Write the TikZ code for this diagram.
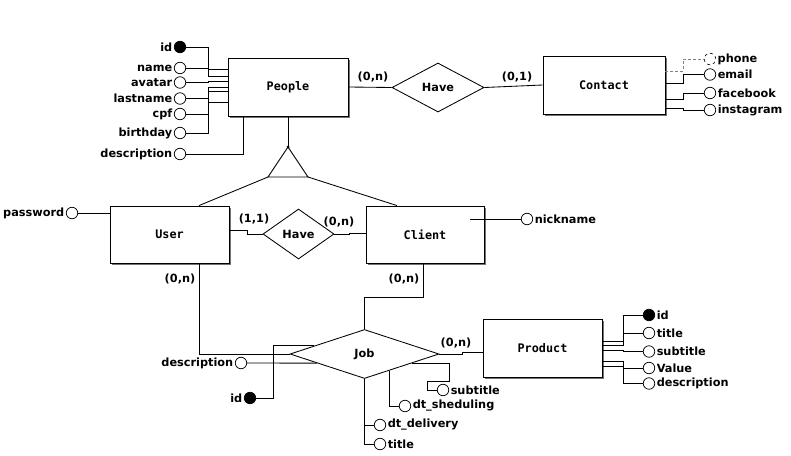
\documentclass[tikz,border=0pt]{standalone}
\usepackage{fontspec}
\setmainfont{DejaVu Sans}
\newfontfamily\entfont{DejaVu Sans Mono}
\usetikzlibrary{shapes.geometric,calc,shadows}
\begin{document}
\begin{tikzpicture}[x=1pt,y=-1pt,line width=0.85pt,
  font=\fontsize{11.3}{13}\selectfont\bfseries,
  ent/.style={draw,fill=white,inner sep=0pt,font=\entfont\fontsize{11.8}{13}\selectfont\bfseries,
    drop shadow={shadow xshift=1.5pt,shadow yshift=-1.5pt,fill=black!55,opacity=1}},
  rel/.style={draw,diamond,fill=white,inner sep=0pt},
  attr/.style={circle,draw,fill=white,minimum size=11.5pt,inner sep=0pt,line width=0.75pt},
  keyattr/.style={attr,fill=black},
  lab/.style={inner sep=1.2pt},
  card/.style={inner sep=0pt}
]
\useasboundingbox (0,0) rectangle (791,455);

% entities
\node[ent,minimum width=120pt,minimum height=58pt] (people) at (288,87) {People};
\node[ent,minimum width=122pt,minimum height=58pt] (contact) at (604,85) {Contact};
\node[ent,minimum width=119pt,minimum height=57pt] (user) at (169.5,234.5) {User};
\node[ent,minimum width=118pt,minimum height=57pt] (client) at (425,234.5) {Client};
\node[ent,minimum width=119pt,minimum height=58pt] (product) at (542.5,348) {Product};

% relationships
\node[rel,minimum width=92pt,minimum height=49pt] (have1) at (438,87.5) {Have};
\node[rel,minimum width=71pt,minimum height=50pt] (have2) at (298.5,234) {Have};
\node[rel,minimum width=149pt,minimum height=49pt] (job) at (364.5,354) {Job};

% ISA triangle
\coordinate (isatop) at (288,147);
\coordinate (isal) at (268,177);
\coordinate (isar) at (308,177);
\draw (isatop) -- (isal) -- (isar) -- cycle;
\fill (isatop) circle (1.5pt);
\draw (people.south) -- (isatop);
\draw (isal) -- ([xshift=29.5pt]user.north);
\draw (isar) -- ([xshift=-28pt]client.north);

% People attributes
\node[keyattr,label={[lab]left:id}] (pid) at (180,47) {};
\node[attr,label={[lab]left:name}] (pname) at (180,68) {};
\node[attr,label={[lab]left:avatar}] (pavatar) at (180,82.5) {};
\node[attr,label={[lab]left:lastname}] (plast) at (180,98.5) {};
\node[attr,label={[lab]left:cpf}] (pcpf) at (180,114) {};
\node[attr,label={[lab]left:birthday}] (pbirth) at (180,133) {};
\node[attr,label={[lab]left:description}] (pdesc) at (180,154) {};
\draw (pid.east) -- ++(22,0) |- ([yshift=18pt]people.west);
\draw (pname.east) -- ++(22,0) |- ([yshift=11pt]people.west);
\draw (pavatar.east) -- ++(22,0) |- ([yshift=6pt]people.west);
\draw (plast.east) -- ++(22,0) |- ([yshift=0pt]people.west);
\draw (pcpf.east) -- ++(22,0) |- ([yshift=-4pt]people.west);
\draw (pbirth.east) -- ++(22,0) |- ([yshift=-15pt]people.west);
\draw (pdesc.east) -| ([xshift=-45pt]people.south);

% People - Have - Contact
\draw (people.east) -- (have1.west);
\draw (have1.east) -- (contact.west);
\node[card] (c1) at (373,77) {(0,n)};
\node[card] (c2) at (517,77) {(0,1)};

% Contact attributes
\node[attr,dashed,line width=0.6pt,label={[lab]right:phone}] (cphone) at (710,59) {};
\node[attr,label={[lab]right:email}] (cemail) at (710,74.5) {};
\node[attr,label={[lab]right:facebook}] (cface) at (710,93) {};
\node[attr,label={[lab]right:instagram}] (cinsta) at (710,110) {};
\draw[densely dashed,gray,line width=0.6pt] ([yshift=14pt]contact.east) -- ++(18,0) |- (cphone.west);
\draw ([yshift=2pt]contact.east) -- ++(18,0) |- (cemail.west);
\draw ([yshift=-14pt]contact.east) -- ++(18,0) |- (cface.west);
\draw ([yshift=-23pt]contact.east) -- ++(18,0) |- (cinsta.west);

% User - Have - Client
\draw ([yshift=4.5pt]user.east) -- ++(18,0) |- (have2.west);
\draw (have2.east) -- ++(15,0) |- ([yshift=1pt]client.west);
\node[card] (c3) at (254,219) {(1,1)};
\node[card] (c4) at (339,222) {(0,n)};

% password / nickname
\node[attr,label={[lab]left:password}] (upass) at (72,213) {};
\draw (upass.east) -- (user.west |- upass);
\node[attr,label={[lab]right:nickname}] (cnick) at (527,219) {};
\draw (cnick.west) -- ++(-51,0);

% User/Client - Job
\draw ([xshift=29.5pt]user.south) |- (job.west);
\draw ([xshift=-2pt]client.south) -- ++(0,33.5) -| (job.north);
\node[card] (c5) at (180,279) {(0,n)};
\node[card] (c6) at (404,279) {(0,n)};

% Job - Product
\draw (job.east) -- ++(23,0) |- ([yshift=-4.5pt]product.west);
\node[card] (c7) at (456,343) {(0,n)};

% Product attributes
\node[keyattr,label={[lab]right:id}] (prid) at (649,315) {};
\node[attr,label={[lab]right:title}] (prtitle) at (649,333) {};
\node[attr,label={[lab]right:subtitle}] (prsub) at (649,351.5) {};
\node[attr,label={[lab]right:Value}] (prval) at (649,368) {};
\node[attr,label={[lab]right:description}] (prdesc) at (649,383.5) {};
\draw ([yshift=7pt]product.east) -- ++(21,0) |- (prid.west);
\draw ([yshift=3pt]product.east) -- ++(21,0) |- (prtitle.west);
\draw ([yshift=-2pt]product.east) -- ++(21,0) |- (prsub.west);
\draw ([yshift=-13pt]product.east) -- ++(21,0) |- (prval.west);
\draw ([yshift=-18pt]product.east) -- ++(21,0) |- (prdesc.west);

% Job attributes
\node[attr,label={[lab]left:description}] (jdesc) at (241,363) {};
\node[keyattr,label={[lab]left:id}] (jid) at (250,398) {};
\node[attr,label={[lab]right:subtitle}] (jsub) at (443,390) {};
\node[attr,label={[lab]right:dt\_sheduling}] (jsched) at (405,406) {};
\node[attr,label={[lab]right:dt\_delivery}] (jdel) at (380,425) {};
\node[attr,label={[lab]right:title}] (jtitle) at (380,444) {};
\draw (jdesc.east) -- ($(job.west)!0.367!(job.south)$);
\draw (jid.east) -- ++(17,0) |- ($(job.west)!0.3265!(job.north)$);
\draw ($(job.east)!0.367!(job.south)$) -- ++(37,0) -- ++(0,18) -- ++(-22,0) |- (jsub.west);
\draw ($(job.east)!0.671!(job.south)$) |- (jsched.west);
\draw (job.south) |- (jdel.west);
\draw (job.south) |- (jtitle.west);
\end{tikzpicture}
\end{document}
